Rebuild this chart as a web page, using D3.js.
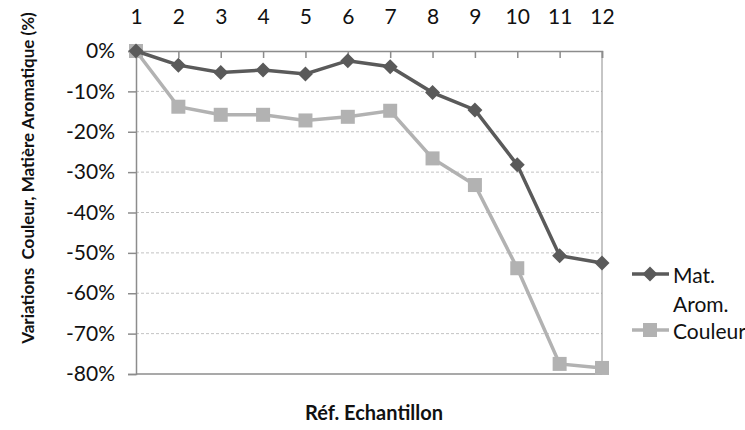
<!DOCTYPE html>
<html>
<head>
<meta charset="utf-8">
<script src="https://cdn.jsdelivr.net/npm/d3@7"></script>
<style>
  body { margin: 0; background: #fff; }
  svg { font-family: Lato, "Open Sans", sans-serif; }
</style>
</head>
<body>
<svg id="chart" width="745" height="430"></svg>
<script>
// sample references
const samples = [1, 2, 3, 4, 5, 6, 7, 8, 9, 10, 11, 12];
// variation in % for each sample
const matArom = [0, -3.5, -5.3, -4.7, -5.7, -2.4, -3.9, -10.3, -14.6, -28.2, -50.7, -52.5];
const couleur = [0, -13.8, -15.8, -15.8, -17.2, -16.3, -14.8, -26.6, -33.2, -53.8, -77.5, -78.5];
const yTicks = [0, -10, -20, -30, -40, -50, -60, -70, -80];
const seriesNames = ["Mat. Arom.", "Couleur"];

const svg = d3.select("#chart");
const plotL = 136, plotR = 602, plotT = 51, plotB = 374;
const dark = "#5a5a5a", light = "#b2b2b2", axisCol = "#8c8c8c";

const x = d3.scalePoint().domain(samples).range([plotL, plotR]);
const y = d3.scaleLinear().domain([0, -80]).range([plotT, plotB]);

// grid
svg.append("g")
  .selectAll("line")
  .data(yTicks.slice(1, -1))
  .join("line")
  .attr("x1", plotL).attr("x2", plotR)
  .attr("y1", d => y(d)).attr("y2", d => y(d))
  .attr("stroke", "#c3c3c3")
  .attr("stroke-dasharray", "3,2");

// right border
svg.append("line")
  .attr("x1", plotR).attr("x2", plotR).attr("y1", plotT).attr("y2", plotB)
  .attr("stroke", axisCol);

// bottom line
svg.append("line")
  .attr("x1", plotL).attr("x2", plotR).attr("y1", plotB).attr("y2", plotB)
  .attr("stroke", axisCol).attr("stroke-width", 1.5);

// y axis
const yAxis = svg.append("g")
  .attr("transform", `translate(${plotL},0)`)
  .call(d3.axisLeft(y).tickValues(yTicks).tickFormat(d => d + "%").tickSize(8).tickPadding(13));
yAxis.selectAll("text").attr("font-size", 21).attr("fill", "#111").attr("font-family", "Lato, sans-serif");

// x axis on top
const xAxis = svg.append("g")
  .attr("transform", `translate(0,${plotT})`)
  .call(d3.axisTop(x).tickSize(-7).tickPadding(27));
xAxis.selectAll("text").attr("font-size", 21).attr("fill", "#111").attr("font-family", "Lato, sans-serif");

svg.selectAll(".domain").attr("stroke", axisCol).attr("stroke-width", 1.5);
svg.selectAll(".tick line").attr("stroke", axisCol).attr("stroke-width", 1.5);

const line = d3.line().x((d, i) => x(samples[i])).y(d => y(d));
const diamondPath = "M0,-7.5L7.5,0L0,7.5L-7.5,0Z";

// Couleur series
svg.append("path").datum(couleur)
  .attr("d", line).attr("fill", "none")
  .attr("stroke", light).attr("stroke-width", 3.5);
svg.append("g").selectAll("rect").data(couleur).join("rect")
  .attr("x", (d, i) => x(samples[i]) - 7).attr("y", d => y(d) - 7)
  .attr("width", 14).attr("height", 14)
  .attr("fill", light);

// Mat. Arom. series
svg.append("path").datum(matArom)
  .attr("d", line).attr("fill", "none")
  .attr("stroke", dark).attr("stroke-width", 3.5);
svg.append("g").selectAll("path").data(matArom).join("path")
  .attr("transform", (d, i) => `translate(${x(samples[i])},${y(d)})`)
  .attr("d", diamondPath)
  .attr("fill", dark);

// axis titles
svg.append("text")
  .attr("transform", "translate(27,178) rotate(-90)")
  .attr("text-anchor", "middle").attr("dominant-baseline", "central")
  .attr("font-size", 17).attr("font-weight", "bold").attr("fill", "#111")
  .attr("xml:space", "preserve")
  .text("Variations  Couleur, Matière Aromatique (%)");

svg.append("text")
  .attr("x", 374).attr("y", 412)
  .attr("text-anchor", "middle").attr("dominant-baseline", "central")
  .attr("font-size", 20).attr("font-weight", "bold").attr("fill", "#111")
  .text("Réf. Echantillon");

// legend
const legend = svg.append("g");
const lg1 = 274, lg2 = 330;
legend.append("line").attr("x1", 632).attr("x2", 669).attr("y1", lg1).attr("y2", lg1)
  .attr("stroke", dark).attr("stroke-width", 3.5);
legend.append("path").attr("transform", `translate(650,${lg1})`)
  .attr("d", diamondPath).attr("fill", dark);
legend.append("text").attr("x", 673).attr("y", lg1).attr("dominant-baseline", "central")
  .attr("font-size", 21).attr("fill", "#111").text(seriesNames[0].split(" ")[0]);
legend.append("text").attr("x", 673).attr("y", lg1 + 29).attr("dominant-baseline", "central")
  .attr("font-size", 21).attr("fill", "#111").text(seriesNames[0].split(" ")[1]);
legend.append("line").attr("x1", 632).attr("x2", 669).attr("y1", lg2).attr("y2", lg2)
  .attr("stroke", light).attr("stroke-width", 3.5);
legend.append("rect").attr("x", 643).attr("y", lg2 - 7).attr("width", 14).attr("height", 14)
  .attr("fill", light);
legend.append("text").attr("x", 673).attr("y", lg2).attr("dominant-baseline", "central")
  .attr("font-size", 21).attr("fill", "#111").text(seriesNames[1]);
</script>
</body>
</html>
